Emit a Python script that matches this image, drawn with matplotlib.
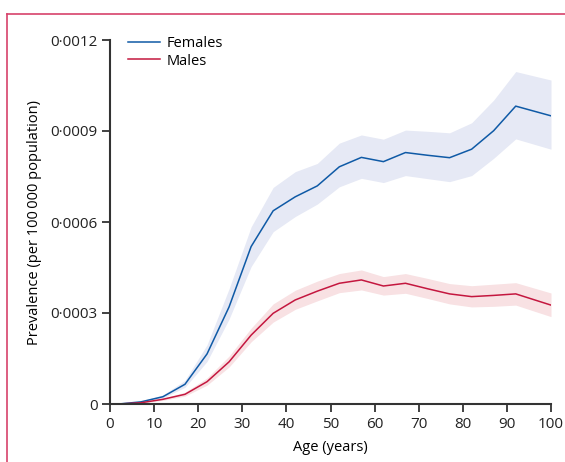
import matplotlib
matplotlib.use("Agg")
import matplotlib.pyplot as plt
from matplotlib.lines import Line2D

# data (prevalence, age in years)
ages = [0, 2, 7, 12, 17, 22, 27, 32, 37, 42, 47, 52, 57, 62, 67, 72, 77, 82, 87, 92, 100]

females = [0, 0, 0.000007, 0.000024, 0.000065, 0.000165, 0.00032, 0.000519, 0.000637,
           0.000683, 0.000719, 0.000782, 0.000813, 0.000799, 0.000829, 0.00082,
           0.000812, 0.00084, 0.000901, 0.000982, 0.00095]
females_lo = [0, 0, 0.000005, 0.00002, 0.000055, 0.00014, 0.00028, 0.000453, 0.000568,
              0.000618, 0.000659, 0.000716, 0.000744, 0.00073, 0.000753, 0.000743,
              0.000733, 0.000753, 0.00081, 0.000874, 0.00084]
females_hi = [0, 0, 0.00001, 0.00003, 0.000078, 0.000195, 0.00038, 0.000584, 0.000714,
              0.000766, 0.000793, 0.00086, 0.000887, 0.000873, 0.000903, 0.000899,
              0.000894, 0.000927, 0.001002, 0.001096, 0.001068]

males = [0, 0, 0.000004, 0.0000155, 0.000032, 0.0000735, 0.000139, 0.000227, 0.000299,
         0.000343, 0.000372, 0.000398, 0.000409, 0.000389, 0.000398, 0.00038,
         0.000363, 0.000354, 0.000358, 0.000363, 0.000326]
males_lo = [0, 0, 0.000003, 0.000012, 0.000026, 0.000062, 0.000122, 0.000205, 0.00027,
            0.000312, 0.00034, 0.000367, 0.000376, 0.000359, 0.000365, 0.000348,
            0.00033, 0.00032, 0.000322, 0.000326, 0.000288]
males_hi = [0, 0, 0.000005, 0.000019, 0.000039, 0.000086, 0.000158, 0.00025, 0.00033,
            0.000375, 0.000405, 0.00043, 0.000442, 0.00042, 0.00043, 0.000414,
            0.000397, 0.00039, 0.000395, 0.0004, 0.000366]

yticks = [0, 0.0003, 0.0006, 0.0009, 0.0012]
ytick_labels = ["0", "0\u00b70003", "0\u00b70006", "0\u00b70009", "0\u00b70012"]
xticks = list(range(0, 101, 10))

blue = "#0f5aa6"
red = "#c4173f"
blue_band = "#e6e9f5"
red_band = "#f8e1e3"
frame_col = "#d7426b"
axis_col = "#333333"

plt.rcParams["font.family"] = ["Open Sans", "DejaVu Sans"]
plt.rcParams["font.size"] = 10

fig = plt.figure(figsize=(5.65, 4.62), dpi=100)
ax = fig.add_axes([110 / 565, 1 - 404 / 462, 441 / 565, 364 / 462])

ax.fill_between(ages, females_lo, females_hi, color=blue_band, lw=0)
ax.fill_between(ages, males_lo, males_hi, color=red_band, lw=0)
ax.plot(ages, females, color=blue, lw=1.1, label="Females")
ax.plot(ages, males, color=red, lw=1.1, label="Males")

ax.set_xlim(0, 100)
ax.set_ylim(0, 0.0012)
ax.set_xticks(xticks)
ax.set_yticks(yticks)
ax.set_yticklabels(ytick_labels)

for s in ["top", "right"]:
    ax.spines[s].set_visible(False)
for s in ["left", "bottom"]:
    ax.spines[s].set_color(axis_col)
    ax.spines[s].set_linewidth(1.5)
ax.tick_params(direction="out", length=6, width=1.3, color=axis_col,
               labelsize=11, labelcolor="#222222", pad=3)

ax.set_xlabel("Age (years)", fontsize=10.5, labelpad=6)
ax.set_ylabel("Prevalence (per 100\u2009000 population)", fontsize=10.5, labelpad=6)

ax.legend(loc="upper left", bbox_to_anchor=(0.01, 1.048), frameon=False,
          fontsize=10.5, handlelength=2.2, handletextpad=0.5, labelspacing=0.2)

# pink frame, top and left only
fig.add_artist(Line2D([7 / 565, 1], [1 - 14 / 462, 1 - 14 / 462],
                      transform=fig.transFigure, color=frame_col, lw=1.2))
fig.add_artist(Line2D([7 / 565, 7 / 565], [0, 1 - 14 / 462],
                      transform=fig.transFigure, color=frame_col, lw=1.2))

fig.savefig("out.png", dpi=100)
